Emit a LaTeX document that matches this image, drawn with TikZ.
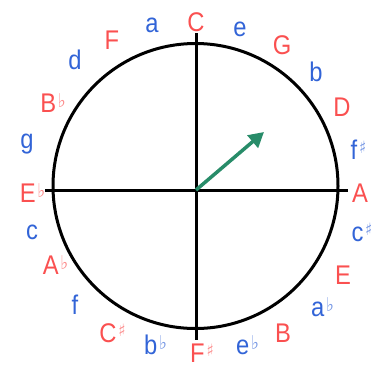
\documentclass[tikz,border=0pt]{standalone}
\usepackage{fontspec}
\setmainfont{Liberation Sans}
\newfontfamily\accfont{DejaVu Sans}
\usepackage{tikz}
\usetikzlibrary{arrows.meta}
\definecolor{majred}{RGB}{250,80,80}
\definecolor{mnrblue}{RGB}{50,100,215}
\definecolor{arrgreen}{RGB}{40,140,105}
\newcommand{\flt}{\hspace{2pt}\raisebox{5pt}{\accfont\fontsize{19}{19}\selectfont\textcolor{.!65}{♭}}}
\newcommand{\shp}{\hspace{2pt}\raisebox{6pt}{\accfont\fontsize{17}{17}\selectfont\textcolor{.!65}{♯}}}

\begin{document}
\begin{tikzpicture}[x=1pt, y=-1pt,
  maj/.style={anchor=base, inner sep=0pt, xscale=0.88, text=majred, font=\fontsize{27}{27}\selectfont},
  mnr/.style={anchor=base, inner sep=0pt, xscale=0.88, text=mnrblue, font=\fontsize{27}{27}\selectfont}]
\useasboundingbox (0,0) rectangle (380,368);
\coordinate (M) at (195.5,186);
\coordinate (O) at (196,190);
\coordinate (N) at (196,33);
\coordinate (S) at (196,340);
\coordinate (W) at (45,190);
\coordinate (E0) at (348,190);
\coordinate (tip) at (264,132);
\draw[line width=3pt] (M) circle (142.5);
\draw[line width=3pt] (W) -- (E0);
\draw[line width=3pt] (N) -- (S);
\draw[arrgreen, line width=3.5pt, -{Triangle[length=15pt,width=16pt]}] (O) -- (tip);
\node[maj] (C)  at (196,31) {C};
\node[mnr] (e)  at (240,36) {e};
\node[maj] (G)  at (282,54) {G};
\node[mnr] (b)  at (316,81) {b};
\node[maj] (D)  at (342,116) {D};
\node[mnr] (fs) at (358.5,159) {f\shp};
\node[maj] (A)  at (360,202) {A};
\node[mnr] (cs) at (362,241) {c\shp};
\node[maj] (E)  at (343,284) {E};
\node[mnr] (ab) at (322.5,316) {a\flt};
\node[maj] (B)  at (283,342) {B};
\node[mnr] (eb) at (247.5,354) {e\flt};
\node[maj] (Fs) at (202,362) {F\shp};
\node[mnr] (bb) at (155.5,354) {b\flt};
\node[maj] (Cs) at (112.5,342) {C\shp};
\node[mnr] (f)  at (75,314) {f};
\node[maj] (Ab) at (55.5,274) {A\flt};
\node[mnr] (c)  at (32,239) {c};
\node[maj] (Eb) at (32.5,202) {E\flt};
\node[mnr] (g)  at (27,148) {g};
\node[maj] (Bb) at (53,112) {B\flt};
\node[mnr] (d)  at (75,69) {d};
\node[maj] (F)  at (112,49) {F};
\node[mnr] (a)  at (152,32) {a};
\end{tikzpicture}
\end{document}
